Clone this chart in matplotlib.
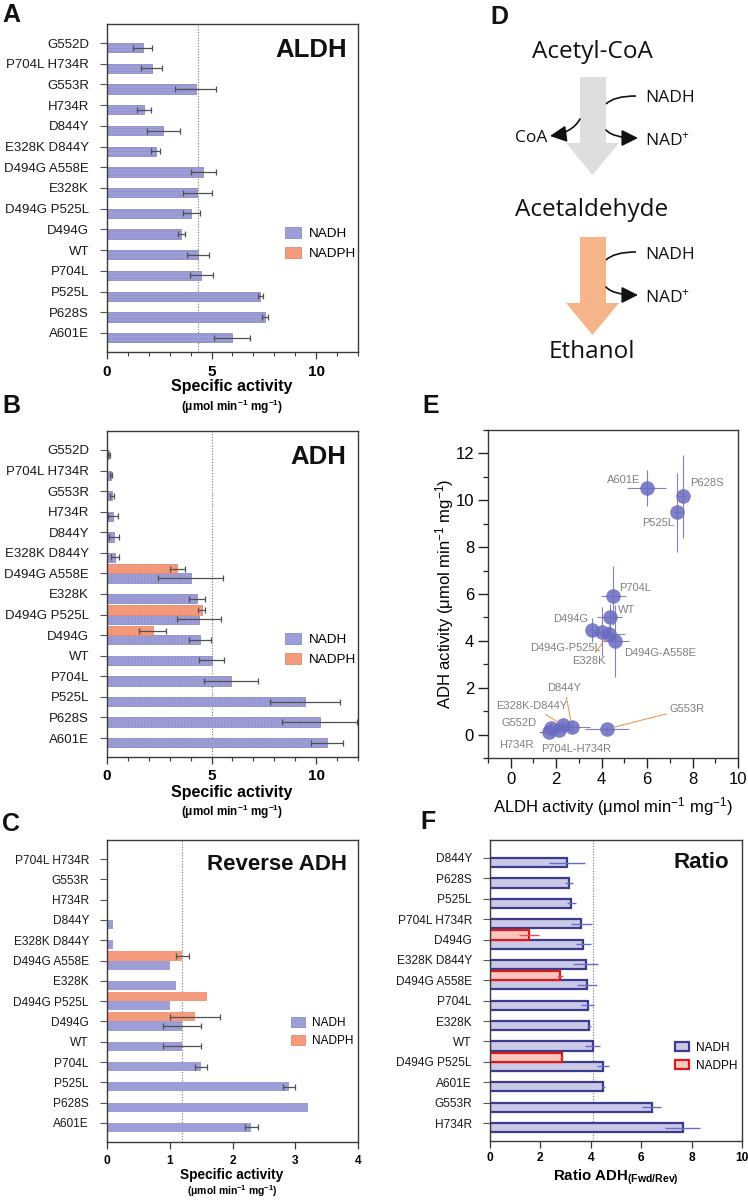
import numpy as np
import matplotlib
matplotlib.use('Agg')
import matplotlib.pyplot as plt
from matplotlib.patches import Polygon, FancyArrowPatch, Patch, PathPatch
from matplotlib.path import Path
from matplotlib.ticker import MultipleLocator

plt.rcParams['font.family'] = ['Liberation Sans', 'DejaVu Sans']
plt.rcParams['mathtext.default'] = 'regular'
plt.rcParams['hatch.linewidth'] = 0.35

# ---------------- data ----------------
aldh_cats = ['G552D', 'P704L H734R', 'G553R', 'H734R', 'D844Y', 'E328K D844Y',
             'D494G A558E', 'E328K', 'D494G P525L', 'D494G', 'WT', 'P704L',
             'P525L', 'P628S', 'A601E']
aldh_nadh = [1.70, 2.13, 4.24, 1.75, 2.70, 2.32, 4.60, 4.32, 4.03, 3.56, 4.35, 4.51, 7.32, 7.56, 5.98]
aldh_nadh_err = [0.45, 0.50, 0.97, 0.33, 0.78, 0.22, 0.59, 0.70, 0.41, 0.15, 0.54, 0.55, 0.12, 0.14, 0.86]

adh_cats = aldh_cats
adh_nadh = [0.11, 0.18, 0.24, 0.29, 0.32, 0.39, 4.00, 4.29, 4.39, 4.46, 5.00, 5.93, 9.48, 10.17, 10.52]
adh_nadh_err = [0.05, 0.06, 0.10, 0.22, 0.23, 0.18, 1.54, 0.38, 1.05, 0.52, 0.58, 1.27, 1.68, 1.78, 0.77]
nan = np.nan
adh_nadph = [nan, nan, nan, nan, nan, nan, 3.36, nan, 4.53, 2.18, nan, nan, nan, nan, nan]
adh_nadph_err = [nan, nan, nan, nan, nan, nan, 0.35, nan, 0.17, 0.66, nan, nan, nan, nan, nan]

rev_cats = ['P704L H734R', 'G553R', 'H734R', 'D844Y', 'E328K D844Y', 'D494G A558E',
            'E328K', 'D494G P525L', 'D494G', 'WT', 'P704L', 'P525L', 'P628S', 'A601E']
rev_nadh = [0, 0, 0, 0.1, 0.1, 1.0, 1.1, 1.0, 1.2, 1.2, 1.5, 2.9, 3.2, 2.3]
rev_nadh_err = [nan, nan, nan, nan, nan, nan, nan, nan, 0.3, 0.3, 0.1, 0.1, nan, 0.1]
rev_nadph = [nan, nan, nan, nan, nan, 1.2, nan, 1.6, 1.4, nan, nan, nan, nan, nan]
rev_nadph_err = [nan, nan, nan, nan, nan, 0.1, nan, nan, 0.4, nan, nan, nan, nan, nan]

ratio_cats = ['D844Y', 'P628S', 'P525L', 'P704L H734R', 'D494G', 'E328K D844Y',
              'D494G A558E', 'P704L', 'E328K', 'WT', 'D494G P525L', 'A601E', 'G553R', 'H734R']
ratio_nadh = [3.06, 3.14, 3.22, 3.62, 3.71, 3.79, 3.85, 3.87, 3.91, 4.08, 4.49, 4.50, 6.41, 7.64]
ratio_nadh_err = [0.72, 0.15, 0.18, 0.42, 0.30, 0.50, 0.40, 0.24, 0.08, 0.30, 0.25, 0.06, 0.39, 0.70]
ratio_nadph = [nan, nan, nan, nan, 1.55, nan, 2.77, nan, nan, nan, 2.85, nan, nan, nan]
ratio_nadph_err = [nan, nan, nan, nan, 0.40, nan, 0.12, nan, nan, nan, 0.05, nan, nan, nan]

# label placement for scatter (text position, alignment, leader line)
scatter_labels = {
    'A601E': (5.72, 10.88, 'right', False),
    'P628S': (7.9, 10.72, 'left', False),
    'P525L': (7.2, 9.05, 'right', False),
    'P704L': (4.78, 6.27, 'left', False),
    'WT': (4.7, 5.3, 'left', False),
    'D494G': (3.42, 4.94, 'right', False),
    'D494G-P525L': (3.97, 3.7, 'right', False),
    'E328K': (4.18, 3.12, 'right', True),
    'D494G-A558E': (5.0, 3.49, 'left', False),
    'D844Y': (2.37, 1.98, 'center', True),
    'E328K-D844Y': (0.93, 1.22, 'center', True),
    'G552D': (1.15, 0.48, 'right', False),
    'H734R': (0.27, -0.43, 'center', False),
    'P704L-H734R': (1.33, -0.6, 'left', False),
    'G553R': (7.0, 1.11, 'left', True),
}

# ---------------- styling ----------------
W, H = 748, 1200
fig = plt.figure(figsize=(7.48, 12.0), dpi=100)

def rect(l, t, r, b):
    return [l / W, 1 - b / H, (r - l) / W, (b - t) / H]

def fx(x):
    return x / W

def fy(y):
    return 1 - y / H

NADH_C = '#9d9dd8'
NADH_E = '#8c8cc6'
NADPH_C = '#f59a7c'
NADPH_E = '#e88a6c'
SPINE = '#3a3a3a'
UNITS = '(\u03bcmol min$^{-1}$ mg$^{-1}$)'
h = 0.45


def style_box(ax):
    for s in ax.spines.values():
        s.set_color(SPINE)
        s.set_linewidth(1.0)


def bar_panel(ax, cats, nadh, nadh_err, nadph, nadph_err, ref, xmax, xmajor, xminor,
              title, title_size, ylab_size, xlab_size, pad_y, hatch, edge=True):
    n = len(cats)
    y = np.arange(n)
    lw = 0.6 if edge else 0
    ax.barh(y + h / 2, nadh, height=h, color=NADH_C, edgecolor=NADH_E if edge else 'none',
            linewidth=lw, hatch=hatch, zorder=2)
    ax.barh(y - h / 2, nadph, height=h, color=NADPH_C, edgecolor=NADPH_E if edge else 'none',
            linewidth=lw, hatch=hatch, zorder=2)
    ax.errorbar(nadh, y + h / 2, xerr=nadh_err, fmt='none', ecolor='#505050',
                elinewidth=0.9, capsize=2.2, capthick=0.9, zorder=3)
    ax.errorbar(nadph, y - h / 2, xerr=nadph_err, fmt='none', ecolor='#505050',
                elinewidth=0.9, capsize=2.2, capthick=0.9, zorder=3)
    ax.axvline(ref, color='#777777', lw=0.8, ls=(0, (1, 1.5)), zorder=1)
    ax.set_xlim(0, xmax)
    ax.set_ylim(n - 1 + pad_y, -pad_y)
    ax.set_yticks(y)
    ax.set_yticklabels(cats, fontsize=ylab_size, color='#1a1a1a')
    ax.xaxis.set_major_locator(MultipleLocator(xmajor))
    if xminor:
        ax.xaxis.set_minor_locator(MultipleLocator(xminor))
    ax.tick_params(axis='y', direction='out', length=5, width=0.8, color='#555555', pad=8)
    ax.tick_params(axis='x', which='major', direction='out', length=5, width=0.9,
                   color=SPINE, labelsize=xlab_size, pad=4)
    ax.tick_params(axis='x', which='minor', direction='out', length=3, width=0.8, color=SPINE)
    for lab in ax.get_xticklabels():
        lab.set_fontweight('bold')
    ax.text(0.955, 0.92, title, transform=ax.transAxes, ha='right', va='center',
            fontsize=title_size, fontweight='bold', color='#111111')
    style_box(ax)


def add_legend(ax, x0, yc, fs):
    handles = [Patch(facecolor=NADH_C, edgecolor=NADH_E, linewidth=0.6),
               Patch(facecolor=NADPH_C, edgecolor=NADPH_E, linewidth=0.6)]
    ax.legend(handles, ['NADH', 'NADPH'], loc='center left', bbox_to_anchor=(x0, yc),
              frameon=False, fontsize=fs, handlelength=1.2, handleheight=0.9,
              handletextpad=0.6, labelspacing=0.5, borderpad=0, borderaxespad=0)


# ---- Panel A ----
axA = fig.add_axes(rect(107, 24, 358, 352))
bar_panel(axA, aldh_cats, aldh_nadh, aldh_nadh_err, [nan] * len(aldh_cats), [nan] * len(aldh_cats),
          aldh_nadh[aldh_cats.index('WT')], 12, 5, 1, 'ALDH', 18.5, 9.5, 11, 0.92, '-----')
add_legend(axA, 0.709, 0.33, 9.7)
fig.text(fx(232), fy(387), 'Specific activity', ha='center', va='center', fontsize=11.5, fontweight='bold')
fig.text(fx(232), fy(407), UNITS, ha='center', va='center', fontsize=8.5, fontweight='bold')

# ---- Panel B ----
axB = fig.add_axes(rect(107, 431, 358, 757))
bar_panel(axB, adh_cats, adh_nadh, adh_nadh_err, adh_nadph, adh_nadph_err,
          adh_nadh[adh_cats.index('WT')], 12, 5, 1, 'ADH', 18.5, 9.5, 11, 0.92, '|||||')
add_legend(axB, 0.709, 0.33, 9.7)
fig.text(fx(232), fy(793), 'Specific activity', ha='center', va='center', fontsize=11.5, fontweight='bold')
fig.text(fx(232), fy(812), UNITS, ha='center', va='center', fontsize=8.5, fontweight='bold')

# ---- Panel C ----
axC = fig.add_axes(rect(107, 840, 358, 1142))
bar_panel(axC, rev_cats, rev_nadh, rev_nadh_err, rev_nadph, rev_nadph_err,
          rev_nadh[rev_cats.index('WT')], 4, 1, None, 'Reverse ADH', 16, 8.6, 8.6, 0.94, None, edge=False)
add_legend(axC, 0.733, 0.364, 8.5)
fig.text(fx(232), fy(1175), 'Specific activity', ha='center', va='center', fontsize=9.8, fontweight='bold')
fig.text(fx(232), fy(1191), UNITS, ha='center', va='center', fontsize=7.5, fontweight='bold')

# ---- Panel F ----
axF = fig.add_axes(rect(490, 840, 742, 1141))
nF = len(ratio_cats)
yF = np.arange(nF)
F_FILL = '#cacae8'
F_EDGE = '#3c3c8c'
R_FILL = '#f8c8c0'
R_EDGE = '#e01818'
axF.barh(yF + h / 2, ratio_nadh, height=h, color=F_FILL, edgecolor=F_EDGE, linewidth=1.6, zorder=2)
axF.barh(yF - h / 2, ratio_nadph, height=h, color=R_FILL, edgecolor=R_EDGE, linewidth=1.6, zorder=2)
axF.errorbar(ratio_nadh, yF + h / 2, xerr=ratio_nadh_err, fmt='none', ecolor='#6a6ac8',
             elinewidth=1.0, capsize=0, zorder=3)
axF.errorbar(ratio_nadph, yF - h / 2, xerr=ratio_nadph_err, fmt='none', ecolor='#e85050',
             elinewidth=1.0, capsize=0, zorder=3)
axF.axvline(ratio_nadh[ratio_cats.index('WT')], color='#777777', lw=0.8, ls=(0, (1, 1.5)), zorder=1)
axF.set_xlim(0, 10)
axF.set_ylim(nF - 1 + 0.88, -0.88)
axF.set_yticks(yF)
axF.set_yticklabels(ratio_cats, fontsize=8.6, color='#1a1a1a')
axF.xaxis.set_major_locator(MultipleLocator(2))
axF.tick_params(axis='y', direction='out', length=5, width=0.8, color='#555555', pad=8)
axF.tick_params(axis='x', direction='out', length=5, width=0.9, color=SPINE, labelsize=8.6, pad=3)
for lab in axF.get_xticklabels():
    lab.set_fontweight('bold')
axF.text(0.948, 0.924, 'Ratio', transform=axF.transAxes, ha='right', va='center',
         fontsize=16, fontweight='bold', color='#111111')
style_box(axF)
handlesF = [Patch(facecolor=F_FILL, edgecolor=F_EDGE, linewidth=1.6),
            Patch(facecolor=R_FILL, edgecolor=R_EDGE, linewidth=1.6)]
axF.legend(handlesF, ['NADH', 'NADPH'], loc='center left', bbox_to_anchor=(0.734, 0.279),
           frameon=False, fontsize=8.5, handlelength=1.2, handleheight=0.8,
           handletextpad=0.6, labelspacing=0.5, borderpad=0, borderaxespad=0)
fig.text(fx(616), fy(1181), 'Ratio ADH$_{(Fwd/Rev)}$', ha='center', va='baseline',
         fontsize=10.8, fontweight='bold')

# ---- Panel E ----
axE = fig.add_axes(rect(488, 430, 738, 758))
SC = '#6a6ac0'
ex = np.array(aldh_nadh)
ey = np.array(adh_nadh)
axE.errorbar(ex, ey, xerr=aldh_nadh_err, yerr=adh_nadh_err, fmt='none', ecolor='#8080cc',
             elinewidth=0.8, capsize=0, zorder=2)
axE.plot(ex, ey, 'o', ms=10.5, color=SC, alpha=0.85, mec='none', zorder=3)
axE.set_xlim(-1, 10)
axE.set_ylim(-1, 13)
axE.xaxis.set_major_locator(MultipleLocator(2))
axE.xaxis.set_minor_locator(MultipleLocator(1))
axE.yaxis.set_major_locator(MultipleLocator(2))
axE.yaxis.set_minor_locator(MultipleLocator(1))
axE.tick_params(which='major', direction='out', length=7, width=1.0, color='#222222',
                labelsize=12, pad=3)
axE.tick_params(which='minor', direction='out', length=3.5, width=0.9, color='#222222')
style_box(axE)
for name, (tx, ty, ha, leader) in scatter_labels.items():
    i = aldh_cats.index(name.replace('-', ' '))
    if leader:
        axE.annotate(name, xy=(ex[i], ey[i]), xytext=(tx, ty), ha=ha, va='center',
                     fontsize=8, color='#808080', zorder=4,
                     arrowprops=dict(arrowstyle='-', color='#f08a40', lw=0.8,
                                     linestyle=(0, (2, 1)), shrinkA=1, shrinkB=5))
    else:
        axE.text(tx, ty, name, ha=ha, va='center', fontsize=8, color='#808080', zorder=4)
fig.text(fx(613), fy(807), 'ALDH activity (\u03bcmol min$^{-1}$ mg$^{-1}$)', ha='center',
         va='center', fontsize=12)
fig.text(fx(445), fy(594), 'ADH activity (\u03bcmol min$^{-1}$ mg$^{-1}$)', ha='center',
         va='center', fontsize=12, rotation=90)

# ---- Panel D (pathway diagram) ----
axD = fig.add_axes(rect(380, 0, 748, 370))
axD.set_xlim(380, 748)
axD.set_ylim(370, 0)
axD.axis('off')
axD.add_patch(Polygon([(580, 77), (606, 77), (606, 143), (619, 143), (592.5, 175),
                       (566, 143), (580, 143)], closed=True, facecolor='#dededf', edgecolor='none'))
axD.add_patch(Polygon([(580, 237), (606, 237), (606, 303), (619, 303), (592.5, 335),
                       (566, 303), (580, 303)], closed=True, facecolor='#f5b48a', edgecolor='none'))
DF = ['Open Sans', 'DejaVu Sans']
axD.text(592, 52, 'Acetyl-CoA', ha='center', va='center', fontsize=17.5, family=DF, color='#111111')
axD.text(592, 210, 'Acetaldehyde', ha='center', va='center', fontsize=17.5, family=DF, color='#111111')
axD.text(592, 352, 'Ethanol', ha='center', va='center', fontsize=17.5, family=DF, color='#111111')
for yy in (98, 255):
    axD.text(645, yy, 'NADH', ha='left', va='center', fontsize=12.5, family=DF, color='#111111')
for yy in (138, 295):
    axD.text(645, yy + 3, 'NAD$^{+}$', ha='left', va='center', fontsize=12.5, family=DF, color='#111111')
axD.text(547, 138, 'CoA', ha='right', va='center', fontsize=12.5, family=DF, color='#111111')

QC = [Path.MOVETO, Path.CURVE3, Path.CURVE3]
AST = '-|>,head_length=1.0,head_width=0.5'
# cofactor entering (no head)
for y0 in (104, 260):
    axD.add_patch(PathPatch(Path([(606, y0), (614, y0 - 8), (636, y0 - 8)], QC),
                            facecolor='none', edgecolor='#111111', lw=1.2))
# cofactor leaving (with head)
for y0 in (130, 287):
    axD.add_patch(FancyArrowPatch(path=Path([(606, y0), (613, y0 + 8), (638, y0 + 8)], QC),
                                  arrowstyle=AST, mutation_scale=10, color='#111111', lw=1.2))
axD.add_patch(FancyArrowPatch(path=Path([(580, 119), (572, 133), (550, 136)], QC),
                              arrowstyle=AST, mutation_scale=10, color='#111111', lw=1.2))

# ---- panel letters ----
for letter, (x, y) in {'A': (2, 15), 'B': (2, 406), 'C': (2, 824), 'D': (490, 17),
                       'E': (422, 406), 'F': (420, 822)}.items():
    fig.text(fx(x), fy(y), letter, ha='left', va='center', fontsize=18, fontweight='bold', color='#111111')

fig.savefig('out.png', dpi=100)
